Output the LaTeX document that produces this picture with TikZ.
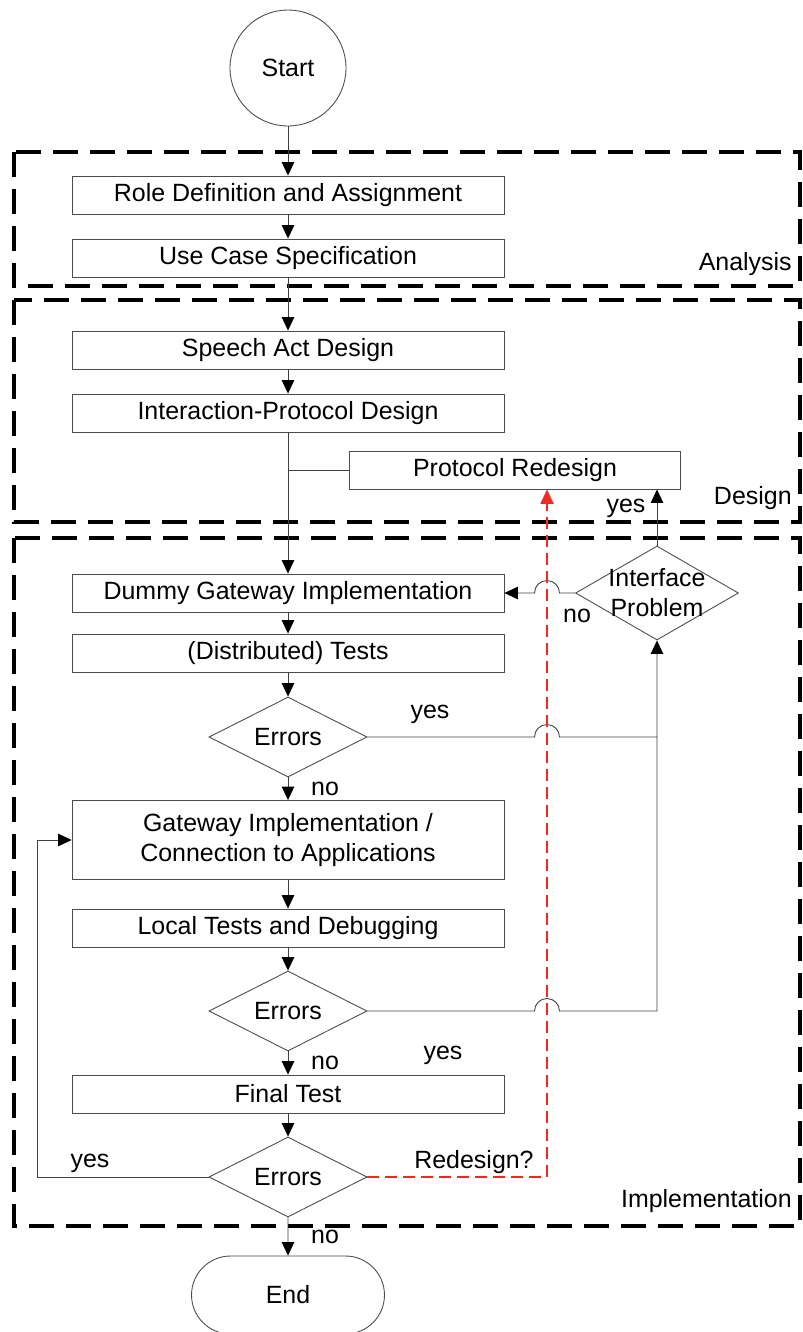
\documentclass[tikz,border=0pt]{standalone}
\usepackage{fontspec}
\setmainfont{Liberation Sans}
\usetikzlibrary{arrows.meta,shapes.geometric,shapes.misc}
\definecolor{redesignred}{RGB}{245,40,40}
\tikzset{
  >={Triangle[length=2.7mm,width=2.5mm,color=black]},
  {box/.style}={rectangle, draw=black!70, line width=0.5pt,
                minimum width=8.64cm, minimum height=0.76cm, inner sep=0},
  {decision/.style}={diamond, draw=black!70, line width=0.5pt, aspect=2,
                minimum width=3.16cm, minimum height=1.6cm, inner sep=0},
  {terminal/.style}={draw=black!70, line width=0.5pt, inner sep=0},
  {phase/.style}={draw, line width=2.2pt, dash pattern=on 0.5cm off 0.24cm},
  {flow/.style}={draw=black!75, line width=0.5pt},
  {redesign flow/.style}={draw=redesignred, line width=1.2pt,
                dash pattern=on 0.24cm off 0.12cm,
                -{Triangle[length=2.9mm,width=2.6mm,color=redesignred]}},
  {tag/.style}={inner sep=0},
}
\begin{document}
\begin{tikzpicture}[x=0.02cm,y=-0.02cm,font=\fontsize{14.2}{17}\selectfont]
  \fill[white] (0,0) rectangle (803,1332);
  \useasboundingbox (0,0) rectangle (803,1332);

  % phases
  \draw[phase] (14,152) rectangle (800,286);
  \draw[phase] (14,300) rectangle (800,522);
  \draw[phase] (14,538) rectangle (800,1226);
  \node[tag,anchor=east] (analysis) at (792,264) {Analysis};
  \node[tag,anchor=east] (design) at (792,498) {Design};
  \node[tag,anchor=east] (implementation) at (792,1201) {Implementation};

  % steps
  \node[terminal,circle,minimum size=2.32cm] (start) at (288,68) {Start};
  \node[box] (role) at (288,195) {Role Definition and Assignment};
  \node[box] (usecase) at (288,258) {Use Case Specification};
  \node[box] (speech) at (288,350) {Speech Act Design};
  \node[box] (protocol) at (288,413) {Interaction-Protocol Design};
  \node[box,minimum width=6.62cm] (redesign) at (515,470) {Protocol Redesign};
  \node[box] (dummy) at (288,593) {Dummy Gateway Implementation};
  \node[box] (disttest) at (288,653) {(Distributed) Tests};
  \node[decision] (err1) at (288,737) {Errors};
  \node[box,minimum height=1.58cm,align=center] (gateway) at (288,840)
    {Gateway Implementation /\\Connection to Applications};
  \node[box] (localtest) at (288,928) {Local Tests and Debugging};
  \node[decision] (err2) at (288,1011) {Errors};
  \node[box] (final) at (288,1094) {Final Test};
  \node[decision] (err3) at (288,1177) {Errors};
  \node[terminal,rounded rectangle,minimum width=3.86cm,minimum height=1.56cm]
    (end) at (288,1295) {End};
  \node[decision,minimum width=3.26cm,minimum height=1.88cm] (iface) at (657,593) {};
  \node[tag,align=center] (ifacetext) at (iface) {Interface\\Problem};

  \coordinate (rd) at (547,1177);
  \coordinate (back) at (37,1177);

  % flow
  \draw[flow,->] (start) -- (role);
  \draw[flow,->] (role) -- (usecase);
  \draw[flow,->] (usecase) -- (speech);
  \draw[flow,->] (speech) -- (protocol);
  \draw[flow,->] (protocol) -- (dummy);
  \draw[flow] (redesign.west -| protocol.south) -- (redesign.west);
  \draw[flow,->] (dummy) -- (disttest);
  \draw[flow,->] (disttest) -- (err1);
  \draw[flow,->] (err1) -- (gateway);
  \draw[flow,->] (gateway) -- (localtest);
  \draw[flow,->] (localtest) -- (err2);
  \draw[flow,->] (err2) -- (final);
  \draw[flow,->] (final) -- (err3);
  \draw[flow,->] (err3) -- (end);
  \draw[flow,->] (err3.west) -- (back) |- (gateway.west);

  \draw[flow] (err1.east) -- ([xshift=-2.5mm]err1.east -| rd)
    arc[start angle=180,end angle=0,radius=2.5mm] -- (err1.east -| iface.south);
  \draw[flow,->] (err2.east) -- ([xshift=-2.5mm]err2.east -| rd)
    arc[start angle=180,end angle=0,radius=2.5mm] -- (err2.east -| iface.south)
    -- (iface.south);
  \draw[flow,->] (iface.west) -- ([xshift=2.5mm]iface.west -| rd)
    arc[start angle=0,end angle=180,radius=2.5mm] -- (dummy.east);
  \draw[flow,->] (iface.north) -- (iface.north |- redesign.south);
  \draw[redesign flow] (err3.east) -- (rd) -- (rd |- redesign.south);

  % labels
  \node[tag] (yes1) at (430,714) {yes};
  \node[tag] (no1) at (325,789) {no};
  \node[tag] (yes2) at (443,1055) {yes};
  \node[tag] (no2) at (325,1063) {no};
  \node[tag] (yes3) at (90,1163) {yes};
  \node[tag] (no3) at (325,1237) {no};
  \node[tag] (yes4) at (626,508) {yes};
  \node[tag] (no4) at (577,616) {no};
  \node[tag] (ask) at (474,1162) {Redesign?};
\end{tikzpicture}
\end{document}
